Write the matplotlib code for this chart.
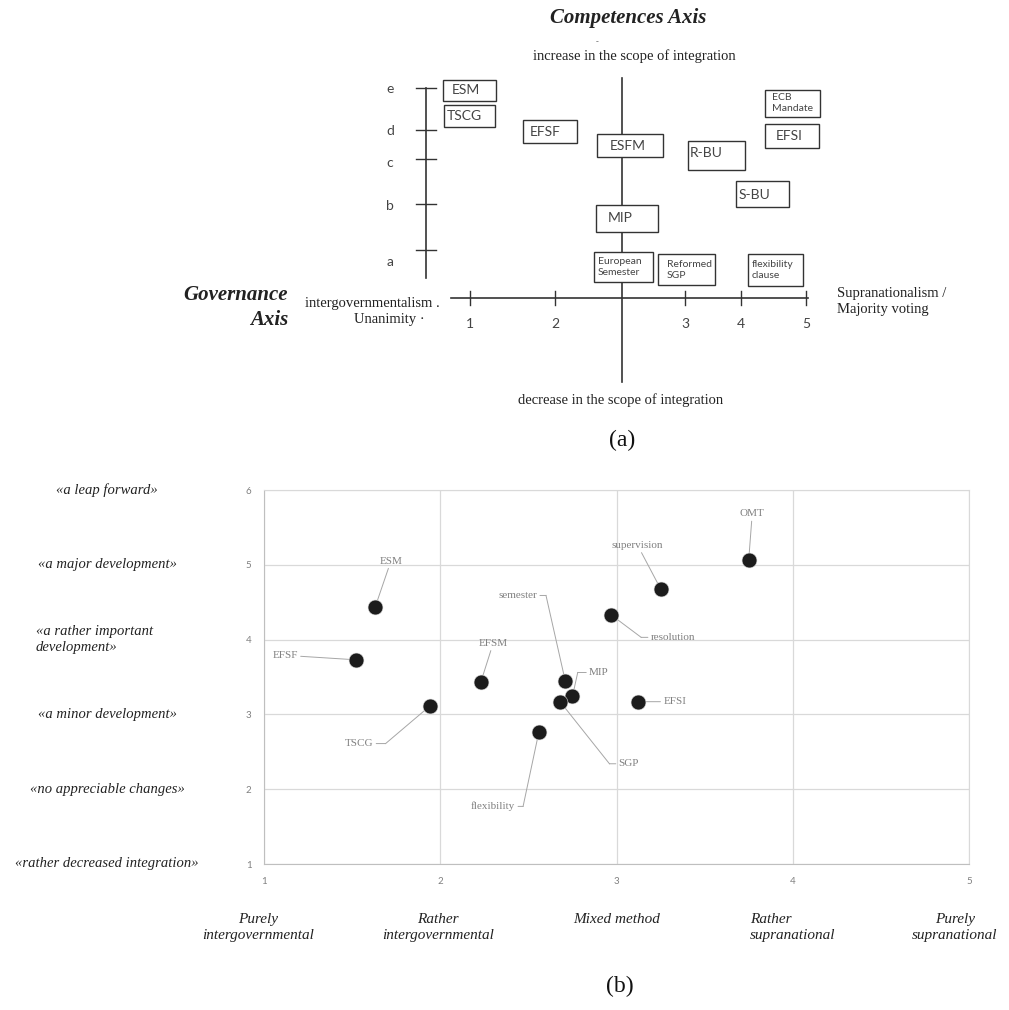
import matplotlib.pyplot as plt
import matplotlib.transforms as mtransforms
from matplotlib.patches import Rectangle

# -----------------------------
# 1. Data: panel (a) positioning scheme
# -----------------------------

gov_ticks = ["1", "2", "3", "4", "5"]
comp_ticks = ["e", "d", "c", "b", "a"]
box_labels = ["ESM", "TSCG", "EFSF", "ESFM", "R-BU", "S-BU", "ECB\nMandate", "EFSI",
              "MIP", "European\nSemester", "Reformed\nSGP", "flexibility\nclause"]

# -----------------------------
# 2. Data: panel (b) assessment of measures
# -----------------------------

measures = ["ESM", "EFSF", "TSCG", "EFSM", "semester", "MIP", "SGP", "flexibility",
            "resolution", "supervision", "OMT", "EFSI"]
governance = [1.63, 1.52, 1.94, 2.23, 2.71, 2.75, 2.68, 2.56, 2.97, 3.25, 3.75, 3.12]
competences = [4.43, 3.73, 3.11, 3.43, 3.44, 3.24, 3.17, 2.77, 4.33, 4.68, 5.06, 3.17]

y_levels = ["«rather decreased integration»", "«no appreciable changes»",
            "«a minor development»", "«a rather important\ndevelopment»",
            "«a major development»", "«a leap forward»"]
x_levels = ["Purely\nintergovernmental", "Rather\nintergovernmental", "Mixed method",
            "Rather\nsupranational", "Purely\nsupranational"]

# -----------------------------
# 3. Layout (pixels of the page for panel a, data units for panel b labels)
# -----------------------------

gov_tick_px = [470, 555, 685, 741, 806]
comp_tick_px = [88, 130, 159, 204, 250]
comp_label_px = [89, 131, 163, 206, 262]
# x0, y0, x1, y1, text x
box_px = [(443, 80, 496, 101, 452), (444, 105, 495, 127, 447), (523, 120, 577, 143, 530),
          (597, 134, 663, 157, 610), (688, 141, 745, 170, 690), (736, 181, 789, 207, 739),
          (765, 90, 820, 117, 772), (765, 124, 819, 148, 776), (596, 205, 658, 232, 608),
          (594, 252, 653, 282, 598), (658, 254, 715, 285, 667), (748, 254, 803, 286, 752)]
box_text_y = [90, 116, 132, 146, 153, 195, 103, 136, 218, 267, 270, 270]

# label position, alignment, knee of leader line (or None)
label_pos = {
    "ESM": (1.72, 5.05, "center", None),
    "EFSF": (1.12, 3.79, "center", None),
    "TSCG": (1.54, 2.61, "center", (1.69, 2.61)),
    "EFSM": (2.30, 3.95, "center", None),
    "semester": (2.44, 4.59, "center", (2.60, 4.59)),
    "MIP": (2.90, 3.56, "center", (2.78, 3.56)),
    "SGP": (3.07, 2.34, "center", (2.96, 2.34)),
    "flexibility": (2.30, 1.77, "center", (2.47, 1.77)),
    "resolution": (3.32, 4.03, "center", (3.14, 4.03)),
    "supervision": (3.12, 5.26, "center", None),
    "OMT": (3.77, 5.68, "center", None),
    "EFSI": (3.33, 3.17, "center", None),
}
x_level_shift = [-6, -2, 0, 0, -14]  # pixels

serif = "Liberation Serif"
sans = "Lato"
ink = "#333333"

fig = plt.figure(figsize=(10.09, 10.10), dpi=100)

# page overlay in pixel coordinates
ax0 = fig.add_axes([0, 0, 1, 1])
ax0.set_xlim(0, 1009)
ax0.set_ylim(1010, 0)
ax0.axis("off")

# -----------------------------
# 4. Panel (a)
# -----------------------------

ax0.text(628, 18, "Competences Axis", family=serif, style="italic", weight="bold",
         fontsize=15, ha="center", va="center", color="#222222")
ax0.text(597, 42, "-", family=serif, fontsize=6, ha="center", va="center", color="#555555")
ax0.text(634, 56, "increase in the scope of integration", family=serif, fontsize=10.5,
         ha="center", va="center", color="#222222")
ax0.text(621, 400, "decrease in the scope of integration", family=serif, fontsize=10.5,
         ha="center", va="center", color="#222222")

# axes of the scheme
ax0.plot([622, 622], [78, 382], color=ink, lw=1.2, zorder=1)
ax0.plot([451, 808], [298, 298], color=ink, lw=1.2, zorder=1)
ax0.plot([426, 426], [88, 278], color=ink, lw=1.2, zorder=1)

for x, lab in zip(gov_tick_px, gov_ticks):
    ax0.plot([x, x], [291, 305], color=ink, lw=1.0, zorder=1)
    ax0.text(x, 324, lab, family=sans, fontsize=10, ha="center", va="center", color="#444444")

for y, ly, lab in zip(comp_tick_px, comp_label_px, comp_ticks):
    ax0.plot([416, 436], [y, y], color=ink, lw=1.0, zorder=1)
    ax0.text(390, ly, lab, family=sans, fontsize=10, ha="center", va="center", color="#444444")

for (x0, y0, x1, y1, tx), ty, lab in zip(box_px, box_text_y, box_labels):
    ax0.add_patch(Rectangle((x0, y0), x1 - x0, y1 - y0, fc="white", ec=ink, lw=1.0, zorder=2))
    small = "\n" in lab
    ax0.text(tx, ty, lab, family=sans, fontsize=7.5 if small else 10, ha="left",
             va="center", color="#444444", linespacing=1.3, zorder=3)

ax0.text(288, 295, "Governance", family=serif, style="italic", weight="bold",
         fontsize=15, ha="right", va="center", color="#222222")
ax0.text(288, 320, "Axis", family=serif, style="italic", weight="bold",
         fontsize=15, ha="right", va="center", color="#222222")
ax0.text(440, 303, "intergovernmentalism .", family=serif, fontsize=10.5,
         ha="right", va="center", color="#222222")
ax0.text(425, 320, "Unanimity ·", family=serif, fontsize=10.5,
         ha="right", va="center", color="#222222")
ax0.text(837, 293, "Supranationalism /", family=serif, fontsize=10.5,
         ha="left", va="center", color="#222222")
ax0.text(837, 310, "Majority voting", family=serif, fontsize=10.5,
         ha="left", va="center", color="#222222")

ax0.text(622, 440, "(a)", family=serif, fontsize=17, ha="center", va="center", color="#111111")

# -----------------------------
# 5. Panel (b)
# -----------------------------

ax = fig.add_axes([264 / 1009, 1 - 864 / 1010, (969 - 264) / 1009, (864 - 490) / 1010])
ax.set_xlim(1, 5)
ax.set_ylim(1, 6)
ax.set_xticks([1, 2, 3, 4, 5])
ax.set_yticks([1, 2, 3, 4, 5, 6])
ax.grid(True, color="#d9d9d9", lw=0.9)
ax.set_axisbelow(True)
for side in ["top", "right"]:
    ax.spines[side].set_color("#d9d9d9")
for side in ["left", "bottom"]:
    ax.spines[side].set_color("#bfbfbf")
ax.tick_params(length=0, labelsize=7, labelcolor="#808080")
ax.tick_params(axis="y", pad=9)
ax.tick_params(axis="x", pad=9)
for lab in ax.get_xticklabels() + ax.get_yticklabels():
    lab.set_family(sans)

ax.scatter(governance, competences, s=115, color="#1c1c1c", edgecolor="#dddddd",
           linewidth=0.4, zorder=3)

for name, gx, cy in zip(measures, governance, competences):
    lx, ly, ha, knee = label_pos[name]
    target = knee if knee is not None else (gx, cy)
    ax.annotate(name, xy=target, xytext=(lx, ly), ha=ha, va="center",
                family=serif, fontsize=8, color="#808080",
                arrowprops=dict(arrowstyle="-", color="#a6a6a6", lw=0.7,
                                shrinkA=0, shrinkB=0), zorder=2)
    if knee is not None:
        ax.plot([knee[0], gx], [knee[1], cy], color="#a6a6a6", lw=0.7, zorder=2)

# category labels next to the axes
ytrans = mtransforms.blended_transform_factory(ax0.transData, ax.transData)
for v, lab in zip(range(1, 7), y_levels):
    if "\n" in lab:
        ax0.text(36, v, lab, transform=ytrans, family=serif, style="italic", fontsize=10.5,
                 ha="left", va="center", color="#222222", linespacing=1.25)
    else:
        ax0.text(107, v, lab, transform=ytrans, family=serif, style="italic", fontsize=10.5,
                 ha="center", va="center", color="#222222")

for v, shift, lab in zip(range(1, 6), x_level_shift, x_levels):
    ma = "left" if lab.startswith("Rather\nsupra") else "center"
    xtrans = mtransforms.blended_transform_factory(
        ax.transData + mtransforms.Affine2D().translate(shift, 0), ax0.transData)
    ax0.text(v, 913, lab, transform=xtrans, family=serif, style="italic", fontsize=11,
             ha="center", va="top", multialignment=ma, color="#222222", linespacing=1.3)

ax0.text(620, 986, "(b)", family=serif, fontsize=17, ha="center", va="center", color="#111111")

fig.savefig("out.png", dpi=100)
